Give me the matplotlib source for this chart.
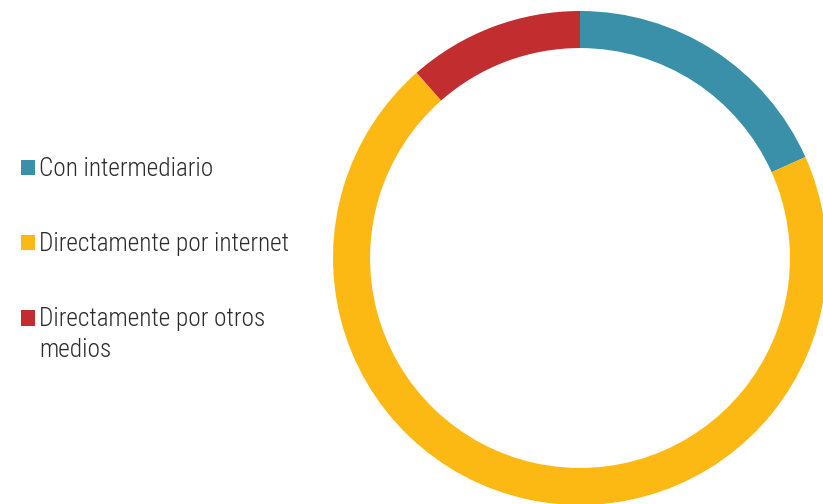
import matplotlib
matplotlib.use('Agg')
import matplotlib.pyplot as plt
from matplotlib.patches import Rectangle
from matplotlib.legend_handler import HandlerPatch

plt.rcParams['font.family'] = ['Roboto Condensed', 'DejaVu Sans']
plt.rcParams['font.weight'] = 'light'

labels = ['Con intermediario', 'Directamente por internet', 'Directamente por otros\nmedios']
values = [18.3, 70.2, 11.5]
colors = ['#3A90A8', '#FDB913', '#C22E2F']

FS = 18.2


def first_line_square(legend, orig_handle, xdescent, ydescent, width, height, fontsize):
    # put the square next to the first line of a two-line label
    return Rectangle((-xdescent, -ydescent + fontsize * 0.68), width, height)


fig = plt.figure(figsize=(8.23, 5.04), dpi=100)
# donut axes: centre ~(580, 258) px, outer radius ~247 px
ax = fig.add_axes([(580 - 247) / 823, (504 - 258 - 247) / 504, 494 / 823, 494 / 504])
wedges, _ = ax.pie(values, colors=colors, startangle=90, counterclock=False,
                   radius=1, wedgeprops=dict(width=0.15, linewidth=0))
ax.set_xlim(-1, 1)
ax.set_ylim(-1, 1)
ax.set_aspect('equal')
ax.axis('off')

leg = fig.legend(wedges, labels, loc='upper left', bbox_to_anchor=(0.0135, 0.708),
                 frameon=False, fontsize=FS, handlelength=0.55, handleheight=0.55,
                 handletextpad=0.16, labelspacing=2.02, borderaxespad=0,
                 handler_map={wedges[2]: HandlerPatch(patch_func=first_line_square)})
for t in leg.get_texts():
    t.set_color('#2b2b2b')
    t.set_linespacing(1.34)

fig.savefig('out.png', dpi=100)
plt.close(fig)
